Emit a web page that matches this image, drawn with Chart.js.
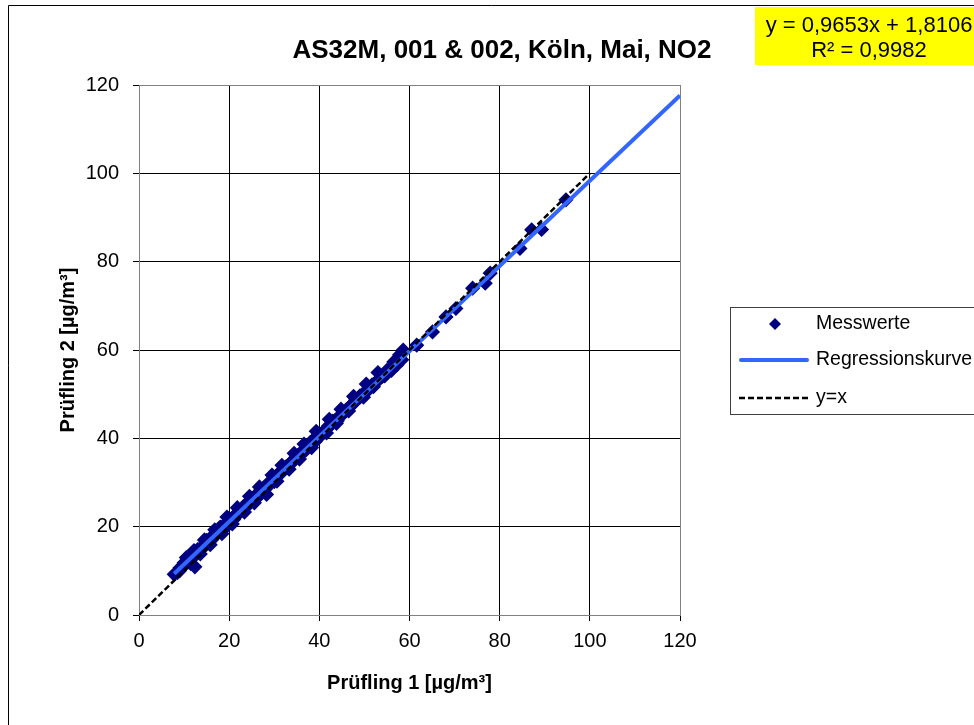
<!DOCTYPE html>
<html>
<head>
<meta charset="utf-8">
<title>AS32M, 001 & 002, Köln, Mai, NO2</title>
<script src="https://cdn.jsdelivr.net/npm/chart.js@4/dist/chart.umd.min.js"></script>
<style>
    body { margin: 0; background: #fff; }
    #wrap { width: 974px; height: 725px; }
</style>
</head>
<body>
<div id="wrap"><canvas id="chart" width="974" height="725"></canvas></div>
<script>
const FONT = "'Liberation Sans', Arial, Helvetica, sans-serif";

const titleText = 'AS32M, 001 & 002, Köln, Mai, NO2';
const xTitle = 'Prüfling 1 [µg/m³]';
const yTitle = 'Prüfling 2 [µg/m³]';
const legendLabels = ['Messwerte', 'Regressionskurve', 'y=x'];
const equationLines = ['y = 0,9653x + 1,8106', 'R² = 0,9982'];

// Regression aus der Gleichung im Diagramm
const slope = 0.9653;
const intercept = 1.8106;
const regStartX = 7.8;
const regEndX = 120;

// y=x Linie
const diagX = [0, 100];

const messX = [
    7.8, 8.5, 9.0, 9.1, 9.6, 10.0, 10.2, 10.8, 11.0, 11.3, 11.9, 12.0, 12.4, 12.6, 13.0, 13.2,
    13.8, 14.0, 14.3, 14.9, 15.0, 15.4, 16.0, 16.0, 16.5, 17.0, 17.1, 17.6, 18.0, 18.2, 18.7, 19.0,
    19.3, 19.8, 20.0, 20.4, 20.9, 21.0, 21.5, 22.0, 22.0, 22.6, 23.0, 23.1, 23.7, 24.0, 24.2, 24.8,
    25.0, 25.3, 25.9, 26.0, 26.4, 27.0, 27.0, 27.5, 28.0, 28.3, 28.6, 29.0, 29.2, 29.7, 30.0, 30.3,
    30.8, 31.0, 31.4, 31.9, 32.0, 32.5, 33.0, 33.0, 33.6, 34.0, 34.1, 34.7, 35.0, 35.2, 35.8, 36.0,
    36.3, 36.9, 37.0, 37.4, 38.0, 38.0, 38.5, 39.0, 39.1, 39.6, 40.0, 40.2, 40.7, 41.0, 41.3, 41.8,
    42.0, 42.4, 42.9, 43.0, 43.5, 44.0, 44.0, 44.6, 45.0, 45.1, 45.7, 46.0, 46.2, 46.8, 47.0, 47.3,
    47.9, 48.0, 48.4, 49.0, 49.0, 49.5, 50.1, 50.6, 51.2, 51.7, 52.3, 52.8, 53.4, 54.0, 55.0, 55.8,
    56.5, 57.2, 57.8, 58.3, 58.6, 61.6, 65.1, 68.1, 70.3, 74.0, 76.8, 77.9, 84.5, 87.1, 89.3, 94.7,
    10.5, 12.2, 14.5, 16.8, 19.5, 21.8, 24.5, 26.7, 29.5, 31.7, 34.4, 36.6, 39.3, 42.2, 44.8, 47.6,
    50.4, 53.0, 11.5, 13.6, 15.8, 18.4, 20.7, 23.4, 25.6, 30.6, 33.3, 35.6, 38.3, 41.6, 43.8, 46.5,
    49.8, 52.0, 54.5, 56.0
];
const messY = [
    9.2, 9.6, 10.0, 10.7, 11.0, 11.8, 11.4, 12.3, 12.0, 12.6, 13.5, 13.0, 10.9, 14.1, 14.8, 14.4,
    15.3, 15.0, 15.5, 16.4, 16.9, 16.5, 17.6, 16.9, 17.5, 18.1, 18.6, 18.7, 19.9, 19.6, 19.5, 19.6,
    20.8, 21.1, 21.9, 21.3, 22.2, 21.6, 22.4, 23.3, 22.9, 23.5, 23.8, 24.5, 24.4, 25.0, 25.6, 25.5,
    26.2, 26.5, 26.6, 26.3, 27.6, 27.5, 28.3, 28.7, 28.5, 27.3, 29.6, 30.2, 29.8, 30.6, 30.2, 31.0,
    31.5, 32.1, 32.4, 32.5, 32.9, 33.5, 33.8, 33.4, 34.4, 34.6, 35.0, 35.3, 35.8, 36.1, 36.4, 36.9,
    37.0, 37.6, 37.3, 38.1, 38.6, 39.1, 39.5, 39.9, 39.3, 40.6, 41.0, 40.5, 41.3, 41.4, 41.9, 42.3,
    42.8, 43.0, 43.4, 43.9, 44.1, 44.5, 44.0, 45.0, 45.3, 45.7, 46.0, 46.5, 46.6, 47.2, 47.4, 47.7,
    48.2, 48.6, 48.8, 49.3, 49.6, 49.9, 50.2, 50.9, 51.3, 52.1, 52.4, 52.9, 53.6, 54.0, 55.4, 55.9,
    57.3, 56.6, 58.9, 57.8, 60.0, 61.1, 64.1, 67.5, 69.4, 74.0, 75.1, 77.4, 83.0, 87.2, 87.3, 94.0,
    13.0, 14.6, 17.0, 19.3, 22.2, 24.3, 26.9, 29.0, 31.7, 33.9, 36.6, 38.7, 41.6, 44.3, 46.6, 49.5,
    52.3, 54.9, 11.6, 13.8, 15.9, 18.4, 20.6, 23.3, 25.4, 30.3, 33.0, 35.3, 37.9, 41.2, 43.4, 46.2,
    49.3, 51.7, 54.1, 55.4
];

const messPoints = messX.map((x, i) => ({ x, y: messY[i] }));
const regPoints = [regStartX, regEndX].map(x => ({ x, y: slope * x + intercept }));
const diagPoints = diagX.map(x => ({ x, y: x }));

const COLORS = {
    mess: '#000080',
    reg: '#3366ff',
    diag: '#000000',
    grid: '#000000',
    edge: '#808080'
};

// Rahmen, Titel, Gleichung und Legende wie im Excel-Diagramm
const decorPlugin = {
    id: 'decor',
    afterDraw(chart) {
        const ctx = chart.ctx;
        ctx.save();

        // äußerer Rahmen
        ctx.strokeStyle = '#000';
        ctx.lineWidth = 1;
        ctx.beginPath();
        ctx.moveTo(8.5, 725);
        ctx.lineTo(8.5, 5.5);
        ctx.lineTo(974, 5.5);
        ctx.stroke();

        // Titel
        ctx.fillStyle = '#000';
        ctx.font = `bold 26px ${FONT}`;
        ctx.textAlign = 'center';
        ctx.textBaseline = 'alphabetic';
        ctx.fillText(titleText, 502, 58);

        // Gleichung
        ctx.fillStyle = '#ffff00';
        ctx.fillRect(755, 7, 230, 58);
        ctx.fillStyle = '#000';
        ctx.font = `22px ${FONT}`;
        ctx.fillText(equationLines[0], 869, 32);
        ctx.fillText(equationLines[1], 869, 57);

        // Legende
        ctx.strokeStyle = '#404040';
        ctx.lineWidth = 1;
        ctx.strokeRect(730.5, 307.5, 300, 107);

        const rows = [324, 360, 398];
        ctx.font = `19.5px ${FONT}`;
        ctx.textAlign = 'left';
        ctx.textBaseline = 'middle';
        legendLabels.forEach((lbl, i) => ctx.fillText(lbl, 816, rows[i]));

        ctx.fillStyle = COLORS.mess;
        ctx.beginPath();
        ctx.moveTo(775 - 6, rows[0]);
        ctx.lineTo(775, rows[0] - 6);
        ctx.lineTo(775 + 6, rows[0]);
        ctx.lineTo(775, rows[0] + 6);
        ctx.closePath();
        ctx.fill();

        ctx.strokeStyle = COLORS.reg;
        ctx.lineWidth = 4;
        ctx.lineCap = 'round';
        ctx.beginPath();
        ctx.moveTo(741, rows[1]);
        ctx.lineTo(807, rows[1]);
        ctx.stroke();

        ctx.strokeStyle = COLORS.diag;
        ctx.lineWidth = 2.5;
        ctx.lineCap = 'butt';
        ctx.setLineDash([6, 3]);
        ctx.beginPath();
        ctx.moveTo(739, rows[2]);
        ctx.lineTo(808, rows[2]);
        ctx.stroke();

        ctx.restore();
    }
};

const gridColor = c => (c.tick && (c.tick.value === 0 || c.tick.value === 120)) ? COLORS.edge : COLORS.grid;

new Chart(document.getElementById('chart'), {
    type: 'scatter',
    data: {
        datasets: [
            {
                label: legendLabels[0],
                data: messPoints,
                pointStyle: 'rectRot',
                pointRadius: 6.5,
                pointBackgroundColor: COLORS.mess,
                pointBorderColor: COLORS.mess,
                pointBorderWidth: 1.5,
                order: 3
            },
            {
                label: legendLabels[1],
                data: regPoints,
                showLine: true,
                borderColor: COLORS.reg,
                borderWidth: 4,
                pointRadius: 0,
                order: 2
            },
            {
                label: legendLabels[2],
                data: diagPoints,
                showLine: true,
                borderColor: COLORS.diag,
                borderWidth: 2.5,
                borderDash: [6, 3],
                pointRadius: 0,
                order: 1
            }
        ]
    },
    options: {
        responsive: false,
        animation: false,
        layout: { padding: { left: 48, top: 85, right: 294, bottom: 0 } },
        plugins: {
            legend: { display: false },
            title: { display: false },
            tooltip: { enabled: false }
        },
        scales: {
            x: {
                min: 0, max: 120,
                afterFit: s => { s.height = 110; },
                ticks: { stepSize: 20, padding: 8, color: '#000', font: { family: FONT, size: 20 } },
                grid: { color: gridColor, tickColor: '#000', tickLength: 6, lineWidth: 1 },
                border: { color: COLORS.edge, width: 1 },
                title: { display: true, text: xTitle, color: '#000', padding: { top: 0, bottom: 30 }, font: { family: FONT, size: 20, weight: 'bold' } }
            },
            y: {
                min: 0, max: 120,
                afterFit: s => { s.width = 91; },
                ticks: { stepSize: 20, padding: 14, color: '#000', font: { family: FONT, size: 20 } },
                grid: { color: gridColor, tickColor: '#000', tickLength: 6, lineWidth: 1 },
                border: { color: COLORS.edge, width: 1 },
                title: { display: true, text: yTitle, color: '#000', padding: { top: 8, bottom: 0 }, font: { family: FONT, size: 20, weight: 'bold' } }
            }
        }
    },
    plugins: [decorPlugin]
});
</script>
</body>
</html>
